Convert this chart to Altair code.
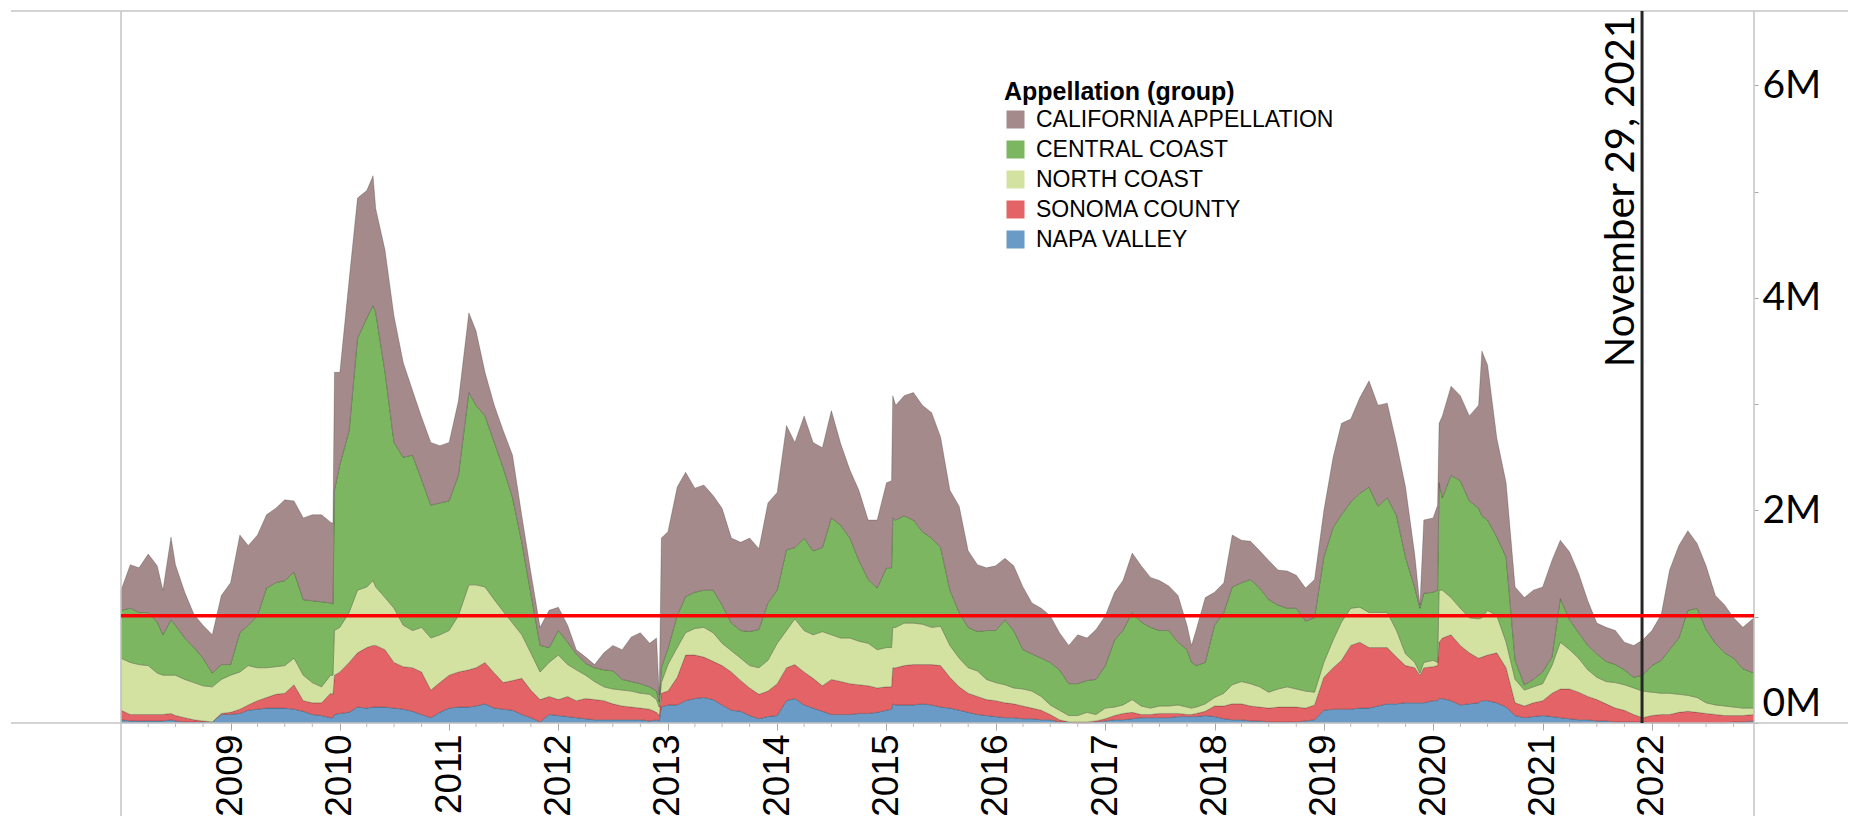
import altair as alt
import pandas as pd

# ---- data (stacked tops, in millions) ----
dates = [
    "2008-01-01", "2008-02-01", "2008-03-01", "2008-04-01", "2008-05-01", "2008-05-20", "2008-06-16",
    "2008-07-01", "2008-08-01", "2008-09-01", "2008-10-01", "2008-11-01", "2008-12-01",
    "2009-01-01", "2009-02-01", "2009-03-01", "2009-04-01", "2009-05-01", "2009-06-01",
    "2009-07-01", "2009-08-01", "2009-09-01", "2009-10-01", "2009-11-01", "2009-12-01",
    "2009-12-09", "2009-12-14",
    "2010-01-01", "2010-02-01", "2010-03-01", "2010-04-01", "2010-04-22", "2010-05-01",
    "2010-06-01", "2010-07-01", "2010-08-01", "2010-09-01", "2010-10-01", "2010-11-01", "2010-12-01",
    "2011-01-01", "2011-02-01", "2011-03-08", "2011-04-01", "2011-05-01", "2011-06-01",
    "2011-07-01", "2011-08-01", "2011-09-01", "2011-10-01", "2011-11-01", "2011-12-01",
    "2012-01-01", "2012-02-01", "2012-03-01", "2012-04-01", "2012-05-01", "2012-06-01",
    "2012-07-01", "2012-08-01", "2012-09-01", "2012-10-01", "2012-11-01", "2012-11-24",
    "2012-12-03", "2012-12-10",
    "2013-01-01", "2013-02-01", "2013-03-01", "2013-04-01", "2013-05-01", "2013-06-01",
    "2013-07-01", "2013-08-01", "2013-09-01", "2013-10-01", "2013-11-01", "2013-12-01",
    "2014-01-01", "2014-02-01", "2014-03-01", "2014-04-01", "2014-05-01", "2014-06-01",
    "2014-07-01", "2014-08-01", "2014-09-01", "2014-10-01", "2014-11-01", "2014-12-01",
    "2015-01-01", "2015-01-18", "2015-01-22", "2015-02-01", "2015-03-01", "2015-04-01",
    "2015-05-01", "2015-06-01", "2015-07-01", "2015-08-01", "2015-09-01", "2015-10-01",
    "2015-11-01", "2015-12-01",
    "2016-01-01", "2016-02-01", "2016-03-01", "2016-04-01", "2016-05-01", "2016-06-01",
    "2016-07-01", "2016-08-01", "2016-09-01", "2016-10-01", "2016-11-01", "2016-12-01",
    "2017-01-01", "2017-02-01", "2017-03-01", "2017-04-01", "2017-05-01", "2017-06-01",
    "2017-07-01", "2017-08-01", "2017-09-01", "2017-10-01", "2017-10-16", "2017-11-01",
    "2017-12-01",
    "2018-01-01", "2018-02-01", "2018-03-01", "2018-04-01", "2018-05-01", "2018-06-01",
    "2018-07-01", "2018-08-01", "2018-09-01", "2018-10-01", "2018-11-01", "2018-12-01",
    "2019-01-01", "2019-02-01", "2019-03-01", "2019-04-01", "2019-05-01", "2019-06-01",
    "2019-07-01", "2019-08-01", "2019-09-01", "2019-10-01", "2019-11-01", "2019-11-18",
    "2019-12-01",
    "2020-01-01", "2020-01-16", "2020-01-21", "2020-02-01", "2020-03-01", "2020-04-01",
    "2020-05-01", "2020-06-01", "2020-06-12", "2020-07-01", "2020-08-01", "2020-09-01",
    "2020-10-01", "2020-11-01", "2020-12-01",
    "2021-01-01", "2021-02-01", "2021-03-01", "2021-04-01", "2021-05-01", "2021-06-01",
    "2021-07-01", "2021-08-01", "2021-09-01", "2021-10-01", "2021-11-01", "2021-12-01",
    "2022-01-01", "2022-02-01", "2022-03-01", "2022-04-01", "2022-05-01", "2022-06-01",
    "2022-07-01", "2022-08-01", "2022-09-01", "2022-10-01", "2022-11-01", "2022-12-08",
]

top_napa = [
    0.03, 0.02, 0.02, 0.02, 0.02, 0.02, 0.03,
    0.02, 0.01, 0.01, 0.01, 0.01, 0.08,
    0.08, 0.09, 0.12, 0.13, 0.14, 0.14,
    0.14, 0.13, 0.11, 0.08, 0.07, 0.05,
    0.05, 0.08,
    0.09, 0.10, 0.15, 0.14, 0.15, 0.15,
    0.15, 0.14, 0.13, 0.11, 0.08, 0.05, 0.10,
    0.14, 0.15, 0.15, 0.16, 0.18, 0.14,
    0.13, 0.12, 0.08, 0.05, 0.01, 0.08,
    0.07, 0.06, 0.05, 0.04, 0.03, 0.03,
    0.03, 0.03, 0.03, 0.03, 0.02, 0.03,
    0.02, 0.15,
    0.17, 0.17, 0.21, 0.23, 0.24, 0.22,
    0.17, 0.12, 0.11, 0.07, 0.04, 0.06,
    0.07, 0.21, 0.23, 0.17, 0.14, 0.11,
    0.08, 0.08, 0.08, 0.09, 0.09, 0.10,
    0.12, 0.13, 0.18, 0.17, 0.17, 0.17,
    0.18, 0.17, 0.15, 0.14, 0.12, 0.10,
    0.08, 0.07,
    0.06, 0.05, 0.05, 0.04, 0.04, 0.03,
    0.03, 0.01, 0.01, 0.00, 0.00, 0.01,
    0.02, 0.03, 0.03, 0.04, 0.05, 0.05,
    0.05, 0.05, 0.06, 0.06, 0.06, 0.06,
    0.07,
    0.06, 0.04, 0.03, 0.03, 0.02, 0.02,
    0.01, 0.01, 0.01, 0.01, 0.02, 0.03,
    0.12, 0.13, 0.13, 0.13, 0.14, 0.14,
    0.16, 0.18, 0.18, 0.19, 0.19, 0.19,
    0.19,
    0.21, 0.21, 0.23, 0.23, 0.21, 0.17,
    0.18, 0.19, 0.21, 0.21, 0.19, 0.15,
    0.07, 0.05, 0.06,
    0.07, 0.06, 0.05, 0.04, 0.03, 0.03,
    0.02, 0.02, 0.01, 0.01, 0.01, 0.01,
    0.00, 0.00, 0.00, 0.00, 0.00, 0.00,
    0.00, 0.00, 0.00, 0.01, 0.01, 0.02,
]

top_sonoma = [
    0.12, 0.08, 0.08, 0.08, 0.08, 0.08, 0.09,
    0.07, 0.05, 0.03, 0.02, 0.01, 0.09,
    0.10, 0.13, 0.17, 0.21, 0.24, 0.27,
    0.28, 0.36, 0.21, 0.19, 0.19, 0.28,
    0.27, 0.45,
    0.48, 0.57, 0.66, 0.71, 0.73, 0.73,
    0.69, 0.57, 0.53, 0.52, 0.48, 0.31, 0.38,
    0.45, 0.48, 0.50, 0.52, 0.57, 0.47,
    0.38, 0.40, 0.42, 0.31, 0.22, 0.25,
    0.22, 0.25, 0.21, 0.23, 0.22, 0.21,
    0.18, 0.16, 0.15, 0.14, 0.13, 0.10,
    0.07, 0.28,
    0.30, 0.43, 0.64, 0.64, 0.62, 0.58,
    0.54, 0.48, 0.40, 0.33, 0.27, 0.30,
    0.37, 0.52, 0.55, 0.48, 0.42, 0.35,
    0.41, 0.39, 0.37, 0.36, 0.35, 0.33,
    0.34, 0.34, 0.52, 0.52, 0.54, 0.55,
    0.55, 0.55, 0.54, 0.43, 0.34, 0.28,
    0.25, 0.22,
    0.21, 0.19, 0.18, 0.16, 0.14, 0.12,
    0.08, 0.03, 0.01, 0.01, 0.01, 0.02,
    0.04, 0.07, 0.09, 0.10, 0.08, 0.08,
    0.09, 0.09, 0.09, 0.08, 0.08, 0.09,
    0.11,
    0.16, 0.16, 0.18, 0.18, 0.16, 0.15,
    0.14, 0.15, 0.15, 0.15, 0.14, 0.17,
    0.43, 0.52, 0.59, 0.73, 0.76, 0.71,
    0.71, 0.71, 0.62, 0.54, 0.52, 0.45,
    0.52,
    0.53, 0.54, 0.76, 0.80, 0.83, 0.73,
    0.66, 0.61, 0.62, 0.64, 0.66, 0.52,
    0.19, 0.16, 0.19,
    0.21, 0.28, 0.32, 0.32, 0.29, 0.25,
    0.22, 0.18, 0.14, 0.12, 0.08, 0.05,
    0.07, 0.08, 0.08, 0.10, 0.11, 0.10,
    0.09, 0.08, 0.07, 0.07, 0.07, 0.08,
]

top_north = [
    0.61, 0.57, 0.55, 0.54, 0.47, 0.45, 0.45,
    0.45, 0.41, 0.38, 0.35, 0.34, 0.41,
    0.45, 0.48, 0.54, 0.52, 0.52, 0.53,
    0.54, 0.61, 0.45, 0.38, 0.34, 0.45,
    0.45, 0.87,
    0.90, 1.04, 1.25, 1.28, 1.34, 1.28,
    1.18, 1.08, 0.92, 0.87, 0.90, 0.80, 0.83,
    0.87, 1.01, 1.30, 1.30, 1.28, 1.16,
    1.05, 0.94, 0.83, 0.66, 0.48, 0.57,
    0.64, 0.55, 0.50, 0.45, 0.39, 0.34,
    0.32, 0.31, 0.30, 0.28, 0.27, 0.22,
    0.15, 0.38,
    0.55, 0.71, 0.85, 0.89, 0.90, 0.85,
    0.75, 0.68, 0.61, 0.54, 0.52, 0.59,
    0.75, 0.87, 0.98, 0.87, 0.83, 0.86,
    0.83, 0.80, 0.80, 0.77, 0.75, 0.69,
    0.71, 0.71, 0.90, 0.90, 0.94, 0.94,
    0.93, 0.90, 0.91, 0.73, 0.61, 0.52,
    0.49, 0.41,
    0.38, 0.36, 0.33, 0.32, 0.30, 0.25,
    0.17, 0.12, 0.07, 0.07, 0.10, 0.08,
    0.14, 0.15, 0.17, 0.22, 0.16, 0.14,
    0.16, 0.16, 0.17, 0.15, 0.14, 0.15,
    0.18,
    0.24, 0.28, 0.36, 0.39, 0.37, 0.34,
    0.29, 0.32, 0.34, 0.32, 0.30, 0.29,
    0.57, 0.78, 0.95, 1.08, 1.09, 1.04,
    1.04, 1.04, 0.87, 0.65, 0.57, 0.47,
    0.57,
    0.59, 0.57, 1.25, 1.25, 1.18, 1.08,
    0.99, 0.98, 0.99, 1.06, 1.01, 0.76,
    0.41, 0.31, 0.34,
    0.37, 0.54, 0.76, 0.69, 0.61, 0.50,
    0.43, 0.39, 0.38, 0.36, 0.33, 0.30,
    0.29, 0.28, 0.28, 0.27, 0.26, 0.24,
    0.19, 0.17, 0.16, 0.15, 0.14, 0.14,
]

top_central = [
    1.06, 1.08, 1.04, 1.04, 0.95, 0.83, 0.97,
    0.92, 0.80, 0.71, 0.61, 0.47, 0.55,
    0.55, 0.85, 0.92, 1.01, 1.27, 1.32,
    1.34, 1.42, 1.16, 1.15, 1.14, 1.13,
    1.12, 2.19,
    2.43, 2.75, 3.62, 3.81, 3.93, 3.86,
    3.30, 2.64, 2.50, 2.52, 2.29, 2.05, 2.07,
    2.09, 2.33, 3.11, 2.99, 2.89, 2.64,
    2.40, 2.12, 1.70, 1.22, 0.73, 0.71,
    0.87, 0.76, 0.65, 0.56, 0.52, 0.50,
    0.49, 0.41, 0.39, 0.37, 0.34, 0.30,
    0.20, 0.52,
    0.70, 1.01, 1.19, 1.23, 1.25, 1.25,
    1.11, 0.94, 0.87, 0.86, 0.88, 1.13,
    1.25, 1.63, 1.65, 1.74, 1.62, 1.65,
    1.93, 1.86, 1.74, 1.53, 1.35, 1.27,
    1.46, 1.46, 1.93, 1.91, 1.95, 1.91,
    1.80, 1.74, 1.65, 1.25, 1.04, 0.90,
    0.86, 0.87,
    0.87, 0.97, 0.87, 0.69, 0.65, 0.61,
    0.57, 0.50, 0.37, 0.37, 0.40, 0.41,
    0.54, 0.78, 0.87, 1.04, 0.95, 0.90,
    0.87, 0.87, 0.76, 0.69, 0.57, 0.54,
    0.57,
    0.92, 1.04, 1.28, 1.32, 1.35, 1.27,
    1.16, 1.11, 1.08, 1.08, 0.96, 0.99,
    1.56, 1.84, 1.96, 2.08, 2.16, 2.22,
    2.04, 2.12, 1.95, 1.56, 1.27, 1.08,
    1.22,
    1.23, 1.25, 2.26, 2.12, 2.33, 2.28,
    2.09, 2.02, 1.95, 1.91, 1.75, 1.56,
    0.59, 0.36, 0.41,
    0.48, 0.62, 1.17, 0.97, 0.85, 0.73,
    0.65, 0.58, 0.55, 0.50, 0.43, 0.45,
    0.54, 0.59, 0.69, 0.80, 1.06, 1.08,
    0.88, 0.75, 0.66, 0.61, 0.51, 0.47,
]

top_california = [
    1.25, 1.49, 1.46, 1.59, 1.48, 1.25, 1.75,
    1.49, 1.23, 1.02, 0.92, 0.83, 1.20,
    1.32, 1.77, 1.67, 1.77, 1.96, 2.02,
    2.10, 2.09, 1.93, 1.96, 1.96, 1.89,
    1.88, 3.30,
    3.30, 4.17, 4.94, 5.01, 5.15, 4.84,
    4.45, 3.83, 3.39, 3.13, 2.88, 2.64, 2.61,
    2.64, 3.03, 3.86, 3.69, 3.30, 2.99,
    2.75, 2.52, 1.95, 1.42, 0.90, 1.06,
    1.09, 0.92, 0.69, 0.62, 0.55, 0.66,
    0.73, 0.69, 0.81, 0.85, 0.75, 0.80,
    0.26, 1.74,
    1.80, 2.22, 2.36, 2.21, 2.24, 2.14,
    2.02, 1.74, 1.70, 1.74, 1.64, 2.07,
    2.17, 2.80, 2.64, 2.89, 2.64, 2.59,
    2.94, 2.63, 2.38, 2.19, 1.91, 1.91,
    2.26, 2.28, 3.08, 2.99, 3.08, 3.11,
    2.99, 2.92, 2.69, 2.19, 2.04, 1.62,
    1.49, 1.46,
    1.48, 1.55, 1.48, 1.28, 1.13, 1.08,
    1.01, 0.85, 0.73, 0.83, 0.80, 0.88,
    1.01, 1.23, 1.34, 1.60, 1.48, 1.37,
    1.34, 1.29, 1.20, 0.92, 0.73, 0.88,
    1.18,
    1.23, 1.32, 1.77, 1.72, 1.71, 1.62,
    1.53, 1.44, 1.43, 1.39, 1.27, 1.35,
    2.00, 2.50, 2.82, 2.86, 3.06, 3.22,
    2.99, 3.01, 2.63, 2.22, 1.58, 1.11,
    1.91,
    1.93, 2.05, 2.82, 2.89, 3.17, 3.08,
    2.89, 2.99, 3.50, 3.37, 2.68, 2.26,
    1.28, 1.18, 1.25,
    1.28, 1.53, 1.72, 1.61, 1.41, 1.15,
    0.94, 0.90, 0.87, 0.76, 0.73, 0.78,
    0.87, 1.02, 1.44, 1.67, 1.81, 1.69,
    1.48, 1.20, 1.11, 0.99, 0.90, 0.99,
]

series_names = ["NAPA VALLEY", "SONOMA COUNTY", "NORTH COAST", "CENTRAL COAST", "CALIFORNIA APPELLATION"]
legend_order = ["CALIFORNIA APPELLATION", "CENTRAL COAST", "NORTH COAST", "SONOMA COUNTY", "NAPA VALLEY"]
legend_colors = ["#a48a8a", "#7db660", "#d3e2a0", "#e36366", "#6a9bc7"]

reference_level = [1.01]            # red horizontal line (millions)
marker_date = ["2021-11-29"]        # black vertical line
marker_text = ["November 29, 2021"]
year_ticks = list(range(2009, 2023))
y_tick_values = [0, 1, 2, 3, 4, 5, 6]

# ---- build the long table (each layer spans previous top -> own top) ----
tops = [top_napa, top_sonoma, top_north, top_central, top_california]
for t in tops:
    assert len(t) == len(dates)
rows = []
for i, name in enumerate(series_names):
    lower = [0.0] * len(dates) if i == 0 else tops[i - 1]
    for d, lo, hi in zip(dates, lower, tops[i]):
        rows.append({"date": d, "series": name, "lo": lo, "hi": hi})
df = pd.DataFrame(rows)

W, H = 1633, 712
PAD_L, PAD_T, PAD_R, PAD_B = 113, 3, 94, 93
GRAY = "#c4c4c4"

x_scale = alt.Scale(
    type="utc",
    domain=[alt.DateTime(year=2008, month=1, date=1, utc=True),
            alt.DateTime(year=2022, month=12, date=8, utc=True)],
)
y_scale = alt.Scale(domain=[0, 6.7], nice=False, zero=True)

x_axis = alt.Axis(
    values=[alt.DateTime(year=y, month=1, date=1, utc=True) for y in year_ticks],
    format="%Y", labelAngle=270, labelAlign="right", labelBaseline="middle",
    labelFont="Liberation Sans", labelFontSize=37, labelColor="#000000",
    labelPadding=4, tickSize=7, tickColor="#a8a8a8", tickWidth=1,
    domain=False, grid=False, labelFlush=False, labelOverlap=False, title="",
)
y_axis = alt.Axis(
    orient="right", values=y_tick_values,
    labelExpr="datum.value % 2 == 0 ? datum.value + 'M' : ''",
    labelFont="Lato", labelFontSize=39, labelColor="#000000",
    labelPadding=4, tickSize=4, tickColor="#a8a8a8", tickWidth=1,
    domain=False, grid=False, labelFlush=True, title="",
)

areas = alt.Chart(df).mark_area(
    interpolate="linear", stroke="#000000", strokeOpacity=0.2, strokeWidth=1
).encode(
    x=alt.X("date:T", scale=x_scale, axis=x_axis),
    y=alt.Y("lo:Q", scale=y_scale, axis=y_axis),
    y2="hi:Q",
    color=alt.Color(
        "series:N",
        scale=alt.Scale(domain=legend_order, range=legend_colors),
        legend=alt.Legend(
            title="Appellation (group)", orient="none", legendX=883, legendY=69,
            titleFont="Liberation Sans", titleFontSize=25, titleFontWeight="bold",
            titleColor="#000000", titlePadding=3, titleLimit=600,
            labelFont="Liberation Sans", labelFontSize=23, labelColor="#000000",
            labelLimit=600, labelOffset=9, symbolType="square", symbolSize=324,
            symbolStrokeWidth=0, symbolOpacity=1, rowPadding=6, padding=0,
        ),
    ),
)

# quarterly minor ticks under the x axis
quarter_ticks = pd.DataFrame({"q": [f"{y}-{m:02d}-01" for y in range(2008, 2023) for m in (4, 7, 10)]})
minor = alt.Chart(quarter_ticks).mark_rule(color="#b8b8b8", strokeWidth=1).encode(
    x=alt.X("q:T", scale=x_scale, axis=x_axis),
    y=alt.value(H), y2=alt.value(H + 4),
)

one = pd.DataFrame({"k": [0]})
top_line = alt.Chart(one).mark_rule(color=GRAY, strokeWidth=1.5).encode(
    x=alt.value(-110), x2=alt.value(W + PAD_R), y=alt.value(0))
base_line = alt.Chart(one).mark_rule(color=GRAY, strokeWidth=1.5).encode(
    x=alt.value(-110), x2=alt.value(W + PAD_R), y=alt.value(H))
left_line = alt.Chart(one).mark_rule(color=GRAY, strokeWidth=1.5).encode(
    x=alt.value(0), y=alt.value(0), y2=alt.value(H + PAD_B))
right_line = alt.Chart(one).mark_rule(color=GRAY, strokeWidth=1.5).encode(
    x=alt.value(W), y=alt.value(0), y2=alt.value(H + PAD_B))

marker_df = pd.DataFrame({"d": marker_date, "label": marker_text})
black_rule = alt.Chart(marker_df).mark_rule(color="#262626", strokeWidth=3).encode(
    x=alt.X("d:T", scale=x_scale, axis=x_axis))
red_rule = alt.Chart(pd.DataFrame({"v": reference_level})).mark_rule(
    color="#ff0000", strokeWidth=3.5).encode(
    y=alt.Y("v:Q", scale=y_scale, axis=y_axis))
marker_label = alt.Chart(marker_df).mark_text(
    angle=270, align="right", baseline="alphabetic", dy=-8,
    font="Lato", fontSize=40, color="#000000",
).encode(
    x=alt.X("d:T", scale=x_scale, axis=x_axis),
    y=alt.value(4),
    text="label:N",
)

chart = alt.layer(
    areas, minor, top_line, base_line, left_line, right_line,
    black_rule, red_rule, marker_label,
).properties(
    width=W, height=H,
    autosize=alt.AutoSizeParams(type="none"),
    padding={"left": PAD_L, "top": PAD_T, "right": PAD_R, "bottom": PAD_B},
    background="#ffffff",
).configure_view(strokeWidth=0)

chart.save("out.html", embed_options={"renderer": "svg", "actions": False})
